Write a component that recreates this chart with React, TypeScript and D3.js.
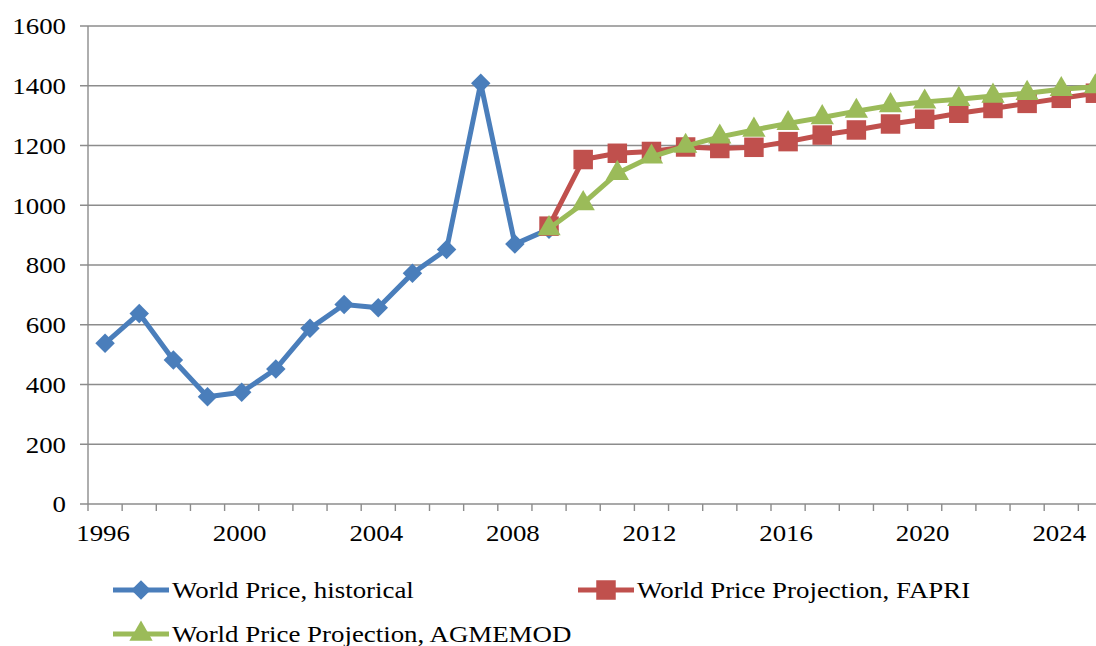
import React from "react";
import * as d3 from "d3";

const categories = [1996,1997,1998,1999,2000,2001,2002,2003,2004,2005,2006,2007,2008,2009,2010,2011,2012,2013,2014,2015,2016,2017,2018,2019,2020,2021,2022,2023,2024,2025];
const historicalYears = [1996,1997,1998,1999,2000,2001,2002,2003,2004,2005,2006,2007,2008,2009];
const historicalValues = [538,638,482,359,374,452,588,668,657,772,852,1408,870,920];
const projYears = [2009,2010,2011,2012,2013,2014,2015,2016,2017,2018,2019,2020,2021,2022,2023,2024,2025];
const fapriValues = [930,1153,1174,1180,1195,1190,1194,1213,1235,1252,1272,1288,1308,1324,1341,1358,1375];
const agmemodValues = [922,1006,1107,1162,1198,1229,1252,1274,1294,1315,1334,1346,1355,1366,1375,1388,1397];
const yTicks = [0,200,400,600,800,1000,1200,1400,1600];
const xTickLabels = [1996,2000,2004,2008,2012,2016,2020,2024];

const W = 1096, H = 646;
const left = 88, top = 26, bottom = 504;
const band = 34.15;
const FONT = "Liberation Serif";
const SX = 1.12;

const BLUE = "#4a7ebb", RED = "#c0504d", GREEN = "#9bbb59", GRID = "#8c8c8c";

export default function App() {
  const x = d3.scaleBand<number>().domain(categories).range([left, left + band * categories.length]).paddingInner(0).paddingOuter(0);
  const cx = (yr: number) => (x(yr) as number) + x.bandwidth() / 2;
  const y = d3.scaleLinear().domain([0, 1600]).range([bottom, top]);
  const right = W + 20;

  const line = d3.line<[number, number]>().x(d => cx(d[0])).y(d => y(d[1]));
  const hist: [number, number][] = historicalYears.map((yr, i) => [yr, historicalValues[i]]);
  const fapri: [number, number][] = projYears.map((yr, i) => [yr, fapriValues[i]]);
  const agm: [number, number][] = projYears.map((yr, i) => [yr, agmemodValues[i]]);

  const diamond = d3.symbol().type(d3.symbolSquare).size(190)()!;
  const square = d3.symbol().type(d3.symbolSquare).size(380)()!;
  const tri = d3.symbol().type(d3.symbolTriangle).size(235)()!;

  const boundaries = d3.range(categories.length + 1).map(i => left + i * x.bandwidth());

  const txt = (key: string, tx: number, ty: number, s: string, anchor: string) => (
    <text key={key} transform={`translate(${tx},${ty}) scale(${SX},1)`} textAnchor={anchor}
      dy="0.35em" style={{ fontFamily: FONT, fontSize: "24px" }} fill="#000">{s}</text>
  );

  const legend = [
    { label: "World Price, historical", color: BLUE, shape: "d", lx: 113, ly: 590 },
    { label: "World Price Projection, FAPRI", color: RED, shape: "s", lx: 578, ly: 590 },
    { label: "World Price Projection, AGMEMOD", color: GREEN, shape: "t", lx: 113, ly: 634 },
  ];

  const marker = (shape: string, color: string, px: number, py: number, key: string) => {
    if (shape === "d") return <path key={key} d={diamond} transform={`translate(${px},${py}) rotate(45)`} fill={color} />;
    if (shape === "s") return <path key={key} d={square} transform={`translate(${px},${py})`} fill={color} />;
    return <path key={key} d={tri} transform={`translate(${px},${py})`} fill={color} />;
  };

  return (
    <svg width={W} height={H} style={{ position: "absolute", left: 0, top: 0, background: "#fff" }}>
      <rect width={W} height={H} fill="#fff" />
      {yTicks.map(t => (
        <g key={"g" + t}>
          <line x1={left - 8} x2={right} y1={y(t)} y2={y(t)} stroke={GRID} strokeWidth={1.4} />
          {txt("yl" + t, 66, y(t), String(t), "end")}
        </g>
      ))}
      <line x1={left} x2={left} y1={top} y2={bottom} stroke={GRID} strokeWidth={1.4} />
      {boundaries.map((b, i) => (
        <line key={"xt" + i} x1={b} x2={b} y1={bottom} y2={bottom + 7} stroke={GRID} strokeWidth={1.4} />
      ))}
      {xTickLabels.map(t => txt("xl" + t, cx(t) - 2, 533, String(t), "middle"))}

      <path d={line(hist)!} fill="none" stroke={BLUE} strokeWidth={5} strokeLinejoin="round" />
      {hist.map((d, i) => marker("d", BLUE, cx(d[0]), y(d[1]), "hm" + i))}
      <path d={line(fapri)!} fill="none" stroke={RED} strokeWidth={5} strokeLinejoin="round" />
      {fapri.map((d, i) => marker("s", RED, cx(d[0]), y(d[1]), "fm" + i))}
      <path d={line(agm)!} fill="none" stroke={GREEN} strokeWidth={5} strokeLinejoin="round" />
      {agm.map((d, i) => marker("t", GREEN, cx(d[0]), y(d[1]), "am" + i))}

      {legend.map((l, i) => (
        <g key={"lg" + i}>
          <line x1={l.lx} x2={l.lx + 56} y1={l.ly} y2={l.ly} stroke={l.color} strokeWidth={5} />
          {marker(l.shape, l.color, l.lx + 28, l.ly, "lm" + i)}
          {txt("lt" + i, l.lx + 59, l.ly, l.label, "start")}
        </g>
      ))}
    </svg>
  );
}
